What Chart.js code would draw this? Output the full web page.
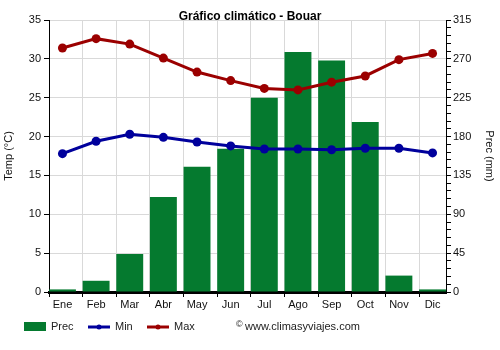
<!DOCTYPE html>
<html>
<head>
<meta charset="utf-8">
<title>Gráfico climático - Bouar</title>
<script src="https://cdn.jsdelivr.net/npm/chart.js@4/dist/chart.umd.min.js"></script>
<style>
    html, body { margin: 0; padding: 0; background: #fff; }
    #wrap { width: 500px; height: 350px; position: relative; }
</style>
</head>
<body>
<div id="wrap"><canvas id="climateChart"></canvas></div>
<script>
const months = ["Ene", "Feb", "Mar", "Abr", "May", "Jun", "Jul", "Ago", "Sep", "Oct", "Nov", "Dic"];
const precMm = [3, 13, 44, 110, 145, 166, 225, 278, 268, 197, 19, 3];
const tempMin = [17.8, 19.4, 20.3, 19.9, 19.3, 18.8, 18.4, 18.4, 18.3, 18.5, 18.5, 17.9];
const tempMax = [31.4, 32.6, 31.9, 30.1, 28.3, 27.2, 26.2, 26.0, 27.0, 27.8, 29.9, 30.7];
const tempTicks = [0, 5, 10, 15, 20, 25, 30, 35];
const precTicks = [0, 45, 90, 135, 180, 225, 270, 315];

const GREEN = "#057a2f";
const BLUE = "#00009c";
const RED = "#9b0000";

Chart.defaults.font.family = "'Liberation Sans', Arial, sans-serif";
Chart.defaults.font.size = 11;
Chart.defaults.color = "#111";

const toPoints = (arr) => arr.map((v, i) => ({ x: i, y: v }));

// title + legend + watermark, drawn straight on the canvas
const decorations = {
    id: "decorations",
    afterDraw(chart) {
        const ctx = chart.ctx;
        ctx.save();
        ctx.fillStyle = "#000";
        ctx.font = "bold 12px 'Liberation Sans', Arial, sans-serif";
        ctx.textAlign = "center";
        ctx.textBaseline = "middle";
        ctx.fillText("Gráfico climático - Bouar", 250, 17);

        const y = 327;
        ctx.font = "11px 'Liberation Sans', Arial, sans-serif";
        ctx.textAlign = "left";
        ctx.fillStyle = GREEN;
        ctx.fillRect(24, 322, 22, 9);
        ctx.fillStyle = "#222";
        ctx.fillText("Prec", 51, y);

        [[BLUE, 88, "Min"], [RED, 147, "Max"]].forEach(([col, x0, label]) => {
            ctx.strokeStyle = col;
            ctx.lineWidth = 3;
            ctx.beginPath();
            ctx.moveTo(x0, y);
            ctx.lineTo(x0 + 22, y);
            ctx.stroke();
            ctx.fillStyle = col;
            ctx.beginPath();
            ctx.arc(x0 + 11, y, 2.5, 0, Math.PI * 2);
            ctx.fill();
            ctx.fillStyle = "#222";
            ctx.fillText(label, x0 + 27, y);
        });

        ctx.font = "9px 'Liberation Sans', Arial, sans-serif";
        ctx.fillText("©", 236, y - 2);
        ctx.font = "11px 'Liberation Sans', Arial, sans-serif";
        ctx.fillText("www.climasyviajes.com", 245, y);
        ctx.restore();
    }
};

new Chart(document.getElementById("climateChart"), {
    type: "bar",
    data: {
        datasets: [
            {
                type: "line",
                label: "Max",
                data: toPoints(tempMax),
                yAxisID: "y",
                borderColor: RED,
                backgroundColor: RED,
                borderWidth: 3,
                pointRadius: 4.5,
                pointBackgroundColor: RED,
                pointBorderWidth: 0,
                tension: 0,
                order: 0
            },
            {
                type: "line",
                label: "Min",
                data: toPoints(tempMin),
                yAxisID: "y",
                borderColor: BLUE,
                backgroundColor: BLUE,
                borderWidth: 3,
                pointRadius: 4.5,
                pointBackgroundColor: BLUE,
                pointBorderWidth: 0,
                tension: 0,
                order: 0
            },
            {
                type: "bar",
                label: "Prec",
                data: toPoints(precMm),
                yAxisID: "y2",
                backgroundColor: GREEN,
                borderWidth: 0,
                barPercentage: 0.8,
                categoryPercentage: 1.0,
                order: 1
            }
        ]
    },
    options: {
        responsive: true,
        maintainAspectRatio: false,
        animation: false,
        layout: {
            padding: { top: 20, left: 0, right: 0, bottom: 36 }
        },
        plugins: {
            legend: { display: false },
            tooltip: { enabled: false },
            title: { display: false }
        },
        scales: {
            x: {
                type: "linear",
                position: "bottom",
                min: -0.4,
                max: 11.4,
                offset: false,
                afterBuildTicks: (scale) => {
                    scale.ticks = months.map((m, i) => ({ value: i - 0.4 }));
                },
                afterFit: (scale) => { scale.height = 22; },
                ticks: {
                    autoSkip: false,
                    maxRotation: 0,
                    labelOffset: 13.5,
                    padding: 1,
                    callback: (value, index) => months[index]
                },
                grid: {
                    offset: false,
                    color: "#d9d9d9",
                    tickColor: "#000",
                    tickLength: 5
                },
                border: { color: "#000", width: 3 }
            },
            y: {
                position: "left",
                min: 0,
                max: 35,
                afterBuildTicks: (scale) => {
                    scale.ticks = tempTicks.map((v) => ({ value: v }));
                },
                afterFit: (scale) => { scale.width = 49; },
                ticks: { padding: 3, autoSkip: false },
                grid: {
                    color: "#d9d9d9",
                    tickColor: "#000",
                    tickLength: 5
                },
                border: { color: "#000", width: 1 },
                title: {
                    display: true,
                    text: "Temp (°C)",
                    color: "#111",
                    font: { size: 11 },
                    padding: { top: 2, bottom: 0 }
                }
            },
            y2: {
                position: "right",
                min: 0,
                max: 315,
                afterBuildTicks: (scale) => {
                    const out = [];
                    for (let v = 0; v <= 315; v += 9) out.push({ value: v });
                    scale.ticks = out;
                },
                afterFit: (scale) => { scale.width = 54; },
                ticks: {
                    padding: 2,
                    autoSkip: false,
                    callback: (value) => precTicks.includes(value) ? String(value) : ""
                },
                grid: {
                    drawOnChartArea: false,
                    tickColor: "#000",
                    tickLength: 5
                },
                border: { color: "#000", width: 1 },
                title: {
                    display: true,
                    text: "Prec (mm)",
                    color: "#111",
                    font: { size: 11 },
                    padding: { top: 4, bottom: 0 }
                }
            }
        }
    },
    plugins: [decorations]
});
</script>
</body>
</html>
